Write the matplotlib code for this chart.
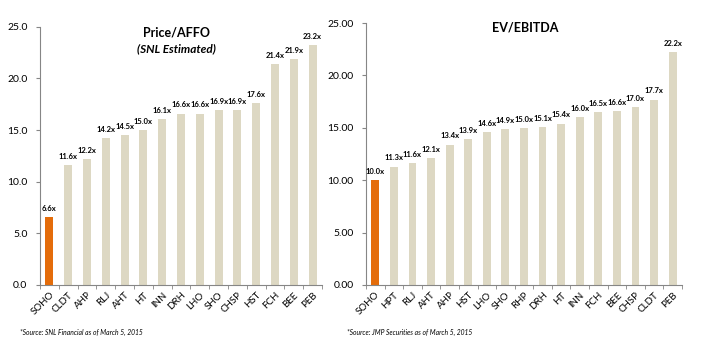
import numpy as np
import matplotlib.pyplot as plt

# Price/AFFO multiples (SNL estimates)
affo_tickers = ['SOHO', 'CLDT', 'AHP', 'RLJ', 'AHT', 'HT', 'INN', 'DRH', 'LHO',
                'SHO', 'CHSP', 'HST', 'FCH', 'BEE', 'PEB']
affo_values = [6.6, 11.6, 12.2, 14.2, 14.5, 15.0, 16.1, 16.6, 16.6,
               16.9, 16.9, 17.6, 21.4, 21.9, 23.2]

# EV/EBITDA multiples (JMP)
ebitda_tickers = ['SOHO', 'HPT', 'RLJ', 'AHT', 'AHP', 'HST', 'LHO', 'SHO', 'RHP',
                  'DRH', 'HT', 'INN', 'FCH', 'BEE', 'CHSP', 'CLDT', 'PEB']
ebitda_values = [10.0, 11.3, 11.6, 12.1, 13.4, 13.9, 14.6, 14.9, 15.0,
                 15.1, 15.4, 16.0, 16.5, 16.6, 17.0, 17.7, 22.2]

plt.rcParams['font.family'] = ['Lato', 'DejaVu Sans']

BEIGE = '#DDD8C3'
ORANGE = '#E46C0A'
AXIS = '#868686'


def draw_panel(ax, tickers, values, fmt):
    x = np.arange(len(tickers))
    colors = [ORANGE] + [BEIGE] * (len(tickers) - 1)
    ax.bar(x, values, width=0.42, color=colors)
    for xi, v in zip(x, values):
        ax.text(xi, v + 0.5, f'{v:.1f}x', ha='center', va='bottom',
                fontsize=5.5, fontweight='bold')
    ax.set_xlim(-0.5, len(tickers) - 0.5)
    ax.set_ylim(0, 25)
    ax.set_yticks(np.arange(0, 26, 5))
    ax.set_yticklabels([fmt.format(t) for t in np.arange(0, 26, 5)], fontsize=7.5)
    ax.set_xticks(x)
    ax.set_xticklabels(tickers, rotation=45, ha='right', rotation_mode='anchor',
                       fontsize=7)
    ax.tick_params(axis='x', length=0, pad=4)
    ax.set_xticks(np.arange(-0.5, len(tickers)), minor=True)
    ax.tick_params(axis='x', which='minor', length=3, color=AXIS)
    ax.tick_params(axis='y', length=3, color=AXIS, pad=6)
    for side in ['top', 'right']:
        ax.spines[side].set_visible(False)
    for side in ['left', 'bottom']:
        ax.spines[side].set_color(AXIS)
        ax.spines[side].set_linewidth(0.8)


fig = plt.figure(figsize=(7.13, 3.40), dpi=100)

ax1 = fig.add_axes([0.0561, 0.162, 0.3955, 0.759])
draw_panel(ax1, affo_tickers, affo_values, '{:.1f}')
fig.text(0.248, 0.905, 'Price/AFFO', ha='center', va='center',
         fontsize=9, fontweight='bold')
fig.text(0.248, 0.858, '(SNL Estimated)', ha='center', va='center',
         fontsize=8.5, fontweight='bold', style='italic')
fig.text(0.028, 0.016, '*Source: SNL Financial as of March 5, 2015',
         fontsize=4.9, style='italic')

ax2 = fig.add_axes([0.5133, 0.162, 0.4432, 0.770])
draw_panel(ax2, ebitda_tickers, ebitda_values, '{:.2f}')
fig.text(0.736, 0.918, 'EV/EBITDA', ha='center', va='center',
         fontsize=9, fontweight='bold')
fig.text(0.486, 0.016, '*Source: JMP Securities as of March 5, 2015',
         fontsize=4.9, style='italic')

plt.savefig('out.png', dpi=100)
